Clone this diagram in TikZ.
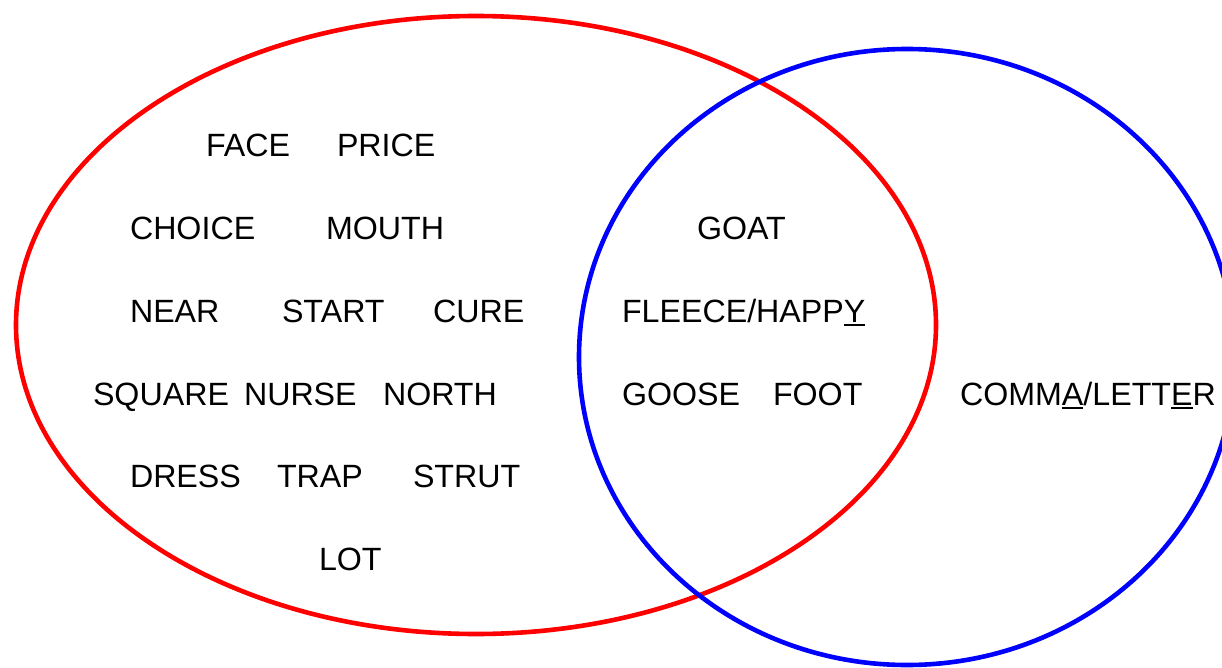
\documentclass[tikz,border=0pt]{standalone}
\usepackage{fontspec}
\setmainfont{Liberation Sans}
\newcommand\uln[1]{\setbox0\hbox{#1}\rlap{\rule[-3.5pt]{\wd0}{2pt}}\box0}
\tikzset{
  word/.style={anchor=base west, inner sep=0pt, outer sep=0pt, font=\fontsize{32.2}{36}\selectfont},
  ring/.style={line width=4.6pt}
}
\begin{document}
\begin{tikzpicture}[x=1pt,y=-1pt]
\useasboundingbox (0,0) rectangle (1222,668);
\draw[ring, red] (476,325) ellipse [x radius=460, y radius=309];
\draw[ring, blue] (907,357) ellipse [x radius=328, y radius=308];
% row 1
\node[word] (face) at (206,157) {FACE};
\node[word] (price) at (337,157) {PRICE};
% row 2
\node[word] (choice) at (130,240) {CHOICE};
\node[word] (mouth) at (326,240) {MOUTH};
\node[word] (goat) at (697,240) {GOAT};
% row 3
\node[word] (near) at (130,322.5) {NEAR};
\node[word] (start) at (282,322.5) {START};
\node[word] (cure) at (433,322.5) {CURE};
\node[word] (fleece) at (622,322.5) {FLEECE/HAPP\uln{Y}};
% row 4
\node[word] (square) at (93,405) {SQUARE};
\node[word] (nurse) at (244,405) {NURSE};
\node[word] (north) at (383,405) {NORTH};
\node[word] (goose) at (622,405) {GOOSE};
\node[word] (foot) at (773,405) {FOOT};
\node[word] (comma) at (960,405) {COMM\uln{A}/LETT\uln{E}R};
% row 5
\node[word] (dress) at (130,487.5) {DRESS};
\node[word] (trap) at (277,487.5) {TRAP};
\node[word] (strut) at (413,487.5) {STRUT};
% row 6
\node[word] (lot) at (319,570) {LOT};
\end{tikzpicture}
\end{document}
